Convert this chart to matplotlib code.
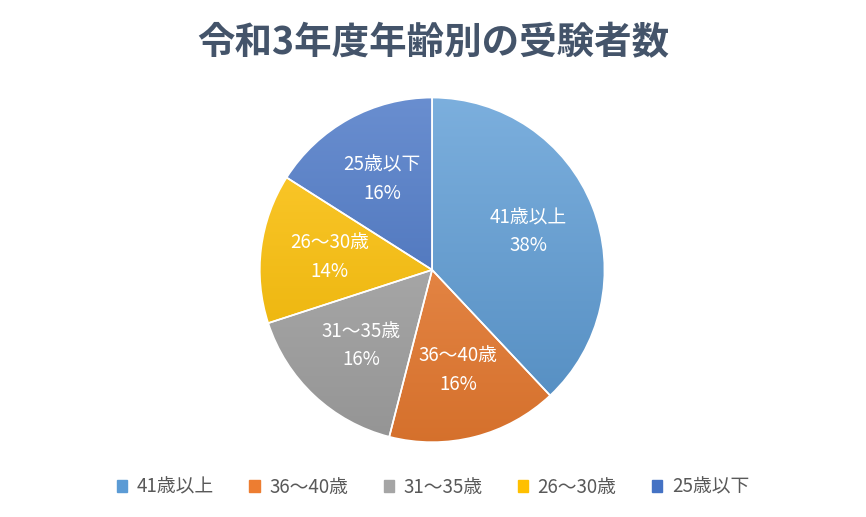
import numpy as np
import matplotlib.pyplot as plt
import matplotlib.colors as mcolors

plt.rcParams['font.family'] = 'Noto Sans CJK JP'

''' DATA '''
labels = ['41歳以上', '36～40歳', '31～35歳', '26～30歳', '25歳以下']
shares = [38, 16, 16, 14, 16]
colors = ['#5B9BD5', '#ED7D31', '#A5A5A5', '#FFC000', '#4472C4']
title = '令和3年度年齢別の受験者数'

''' PLOTTING '''
fig = plt.figure(figsize=(8.66, 5.17), dpi=100)
ax = fig.add_axes([0.499 - 0.201, 0.478 - 0.3366, 0.402, 0.6732])

wedges, texts, autotexts = ax.pie(
    shares, colors=colors, startangle=90, counterclock=False,
    autopct='%d%%', pctdistance=0.6,
    wedgeprops=dict(edgecolor='white', linewidth=1.2))

# vertical gradient fill, clipped to each wedge
for w, c in zip(wedges, colors):
    base = np.array(mcolors.to_rgb(c))
    light = base + (1 - base) * 0.2
    dark = base * 0.9
    t = np.linspace(0, 1, 256)[:, None]
    grad = light[None, :] * (1 - t) + dark[None, :] * t
    img = ax.imshow(grad[:, None, :], extent=(-1, 1, -1, 1), origin='upper',
                    aspect='auto', zorder=w.get_zorder() + 0.1)
    img.set_clip_path(w)
    w.set_facecolor('none')
    w.set_zorder(img.get_zorder() + 0.1)

for lab, at, s in zip(labels, autotexts, shares):
    at.set_text(f'{lab}\n{s}%')
    at.set_color('white')
    at.set_fontsize(13.5)
    at.set_linespacing(1.45)
    at.set_zorder(10)

ax.set_xlim(-1.01, 1.01)
ax.set_ylim(-1.01, 1.01)
ax.axis('off')

fig.text(0.5, 0.918, title, ha='center', va='center', fontsize=27,
         fontweight='bold', color='#44546A')

handles = [plt.Rectangle((0, 0), 1, 1, color=c) for c in colors]
fig.legend(handles, labels, loc='center', bbox_to_anchor=(0.5, 0.058), ncol=5,
           frameon=False, fontsize=13.5, handlelength=0.55, handleheight=0.55,
           columnspacing=1.9, handletextpad=0.5, labelcolor='#595959')

fig.savefig('out.png', dpi=100)
